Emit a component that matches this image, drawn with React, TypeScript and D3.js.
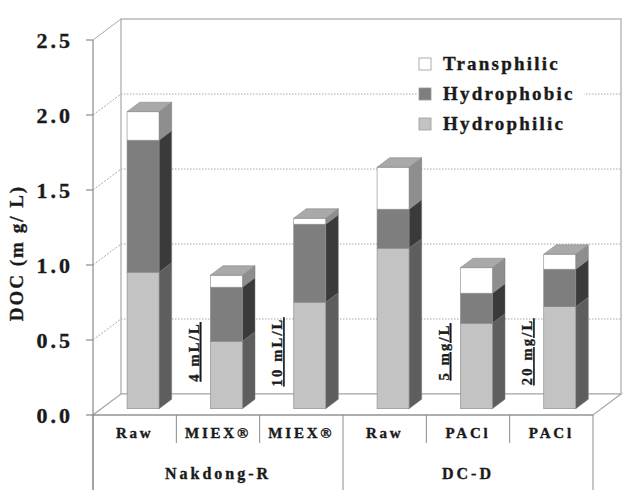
import React from "react";
import * as d3 from "d3";

const categories = ["Raw", "MIEX®", "MIEX®", "Raw", "PACl", "PACl"];
const doseLabels = ["", "4 mL/L", "10 mL/L", "", "5 mg/L", "20 mg/L"];
const groups = ["Nakdong-R", "DC-D"];
const groupSizes = [3, 3];
const hydrophilic = [0.91, 0.45, 0.71, 1.07, 0.57, 0.68];
const hydrophobic = [0.88, 0.36, 0.52, 0.26, 0.2, 0.25];
const transphilic = [0.19, 0.08, 0.04, 0.28, 0.17, 0.1];
const yTicks = [0, 0.5, 1.0, 1.5, 2.0, 2.5];
const seriesNames = ["Hydrophilic", "Hydrophobic", "Transphilic"];

const W = 629, H = 492;
const X0 = 93, X1 = 593, Y0 = 415, YTOP = 40;
const DX = 28, DY = -21; // wall depth
const FRONT = 0.3, DEPTH = 0.45, BARW = 32;

const colors = [
  { front: "#c3c3c3", side: "#5e5e5e", top: "#a9a9a9" },
  { front: "#7e7e7e", side: "#3a3a3a", top: "#a9a9a9" },
  { front: "#ffffff", side: "#8e8e8e", top: "#a9a9a9" },
];

const serif = "Liberation Serif, DejaVu Serif, serif";
const txt = (size: number, ls: number) => ({
  fontFamily: serif,
  fontWeight: 700 as const,
  fontSize: size,
  letterSpacing: ls,
});
const INK = "#1a1a1a";

export default function App() {
  const y = d3.scaleLinear().domain([0, 2.5]).range([Y0, YTOP]);
  const idx = categories.map((_, i) => String(i));
  const x = d3.scaleBand().domain(idx).range([X0, X1]);
  const bw = x.bandwidth();

  const stack = d3.stack<number[]>().keys(["0", "1", "2"] as any).value((d: any, k: any) => d[+k]);
  const rows = categories.map((_, i) => [hydrophilic[i], hydrophobic[i], transphilic[i]]);
  const stacked = stack(rows as any);

  const fx = DX * FRONT, fy = DY * FRONT;
  const ddx = DX * DEPTH, ddy = DY * DEPTH;

  const bars: React.ReactNode[] = [];
  categories.forEach((_, i) => {
    const left = (x(String(i)) as number) + bw / 2 - BARW / 2 + fx;
    const right = left + BARW;
    stacked.forEach((s, si) => {
      const [v0, v1] = s[i];
      const yb = y(v0) + fy, yt = y(v1) + fy;
      const c = colors[si];
      bars.push(
        <g key={`b${i}-${si}`}>
          <polygon
            points={`${right},${yb} ${right + ddx},${yb + ddy} ${right + ddx},${yt + ddy} ${right},${yt}`}
            fill={c.side} stroke="#777" strokeWidth={0.5}
          />
          <rect x={left} y={yt} width={BARW} height={yb - yt} fill={c.front} stroke="#888" strokeWidth={0.6} />
        </g>
      );
      if (si === stacked.length - 1) {
        bars.push(
          <polygon key={`t${i}`}
            points={`${left},${yt} ${left + ddx},${yt + ddy} ${right + ddx},${yt + ddy} ${right},${yt}`}
            fill={c.top} stroke="#888" strokeWidth={0.6}
          />
        );
      }
    });
  });

  const groupBounds: number[] = [0];
  groupSizes.forEach((g, i) => groupBounds.push(groupBounds[i] + g));

  const legendItems = [2, 1, 0];
  const ink = { fill: INK, stroke: INK, strokeWidth: 0.35 };

  return (
    <svg width={W} height={H} style={{ position: "absolute", left: 0, top: 0, background: "#fff" }}>
      <rect x={0} y={0} width={W} height={H} fill="#fff" />
      <rect x={X0 + DX} y={YTOP + DY} width={X1 - X0} height={Y0 - YTOP} fill="none" stroke="#a8a8a8" strokeWidth={1.2} />
      {yTicks.slice(1, -1).map((t) => (
        <line key={`g${t}`} x1={X0 + DX} x2={X1 + DX} y1={y(t) + DY} y2={y(t) + DY} stroke="#a8a8a8" strokeWidth={1} strokeDasharray="1.5,1.5" />
      ))}
      {yTicks.map((t) => (
        <line key={`d${t}`} x1={X0} y1={y(t)} x2={X0 + DX} y2={y(t) + DY}
          stroke="#a8a8a8" strokeWidth={1} strokeDasharray={t === 0 || t === 2.5 ? undefined : "2,1.5"} />
      ))}
      <polygon points={`${X0},${Y0} ${X1},${Y0} ${X1 + DX},${Y0 + DY} ${X0 + DX},${Y0 + DY}`} fill="#fff" stroke="#a8a8a8" strokeWidth={1.2} />
      <line x1={X0} x2={X0} y1={YTOP} y2={490} stroke="#8a8a8a" strokeWidth={1.2} />
      {yTicks.map((t) => (
        <g key={`yt${t}`}>
          <line x1={X0 - 7} x2={X0} y1={y(t)} y2={y(t)} stroke="#8a8a8a" strokeWidth={1.2} />
          <text x={73} y={y(t) + 7.5} textAnchor="end" style={txt(22, 3)} {...ink}>
            {t.toFixed(1)}
          </text>
        </g>
      ))}
      <line x1={X0} x2={X1} y1={Y0} y2={Y0} stroke="#8a8a8a" strokeWidth={1.2} />
      {categories.map((c, i) => {
        const bx = x(String(i)) as number;
        const isGroupBound = groupBounds.includes(i);
        return (
          <g key={`c${i}`}>
            {!isGroupBound && <line x1={bx} x2={bx} y1={Y0} y2={443} stroke="#8a8a8a" strokeWidth={1} />}
            <text x={bx + bw / 2} y={438} textAnchor="middle" style={txt(15, 2.8)} {...ink}>
              {c}
            </text>
          </g>
        );
      })}
      {groupBounds.map((b, i) => {
        const gx = b < categories.length ? (x(String(b)) as number) : X1;
        return <line key={`gb${i}`} x1={gx} x2={gx} y1={Y0} y2={490} stroke="#8a8a8a" strokeWidth={1} />;
      })}
      {groups.map((g, i) => {
        const a = x(String(groupBounds[i])) as number;
        const b = groupBounds[i + 1] < categories.length ? (x(String(groupBounds[i + 1])) as number) : X1;
        return (
          <text key={`gl${i}`} x={(a + b) / 2} y={479} textAnchor="middle" style={txt(16, 3)} {...ink}>
            {g}
          </text>
        );
      })}
      {bars}
      {doseLabels.map((d, i) => {
        if (!d) return null;
        const lx = (x(String(i)) as number) + 17.5;
        const ly = 352;
        return (
          <g key={`dl${i}`} transform={`translate(${lx},${ly}) rotate(-90)`}>
            <text x={0} y={5} textAnchor="middle" style={{ ...txt(14.5, 2.2), textDecoration: "underline" }} {...ink}>
              {d}
            </text>
          </g>
        );
      })}
      <rect x={418} y={52} width={166} height={84} fill="#fff" />
      {legendItems.map((si, k) => {
        const ly = 64 + k * 30;
        return (
          <g key={`lg${si}`}>
            <rect x={419} y={ly - 6} width={12} height={12} fill={colors[si].front} stroke="#999" strokeWidth={0.8} />
            <text x={443} y={ly + 6} style={txt(19, 2.2)} {...ink}>
              {seriesNames[si]}
            </text>
          </g>
        );
      })}
      <text transform={`translate(23,253) rotate(-90)`} textAnchor="middle" style={txt(19, 2)} {...ink}>
        DOC (m g/ L)
      </text>
    </svg>
  );
}
